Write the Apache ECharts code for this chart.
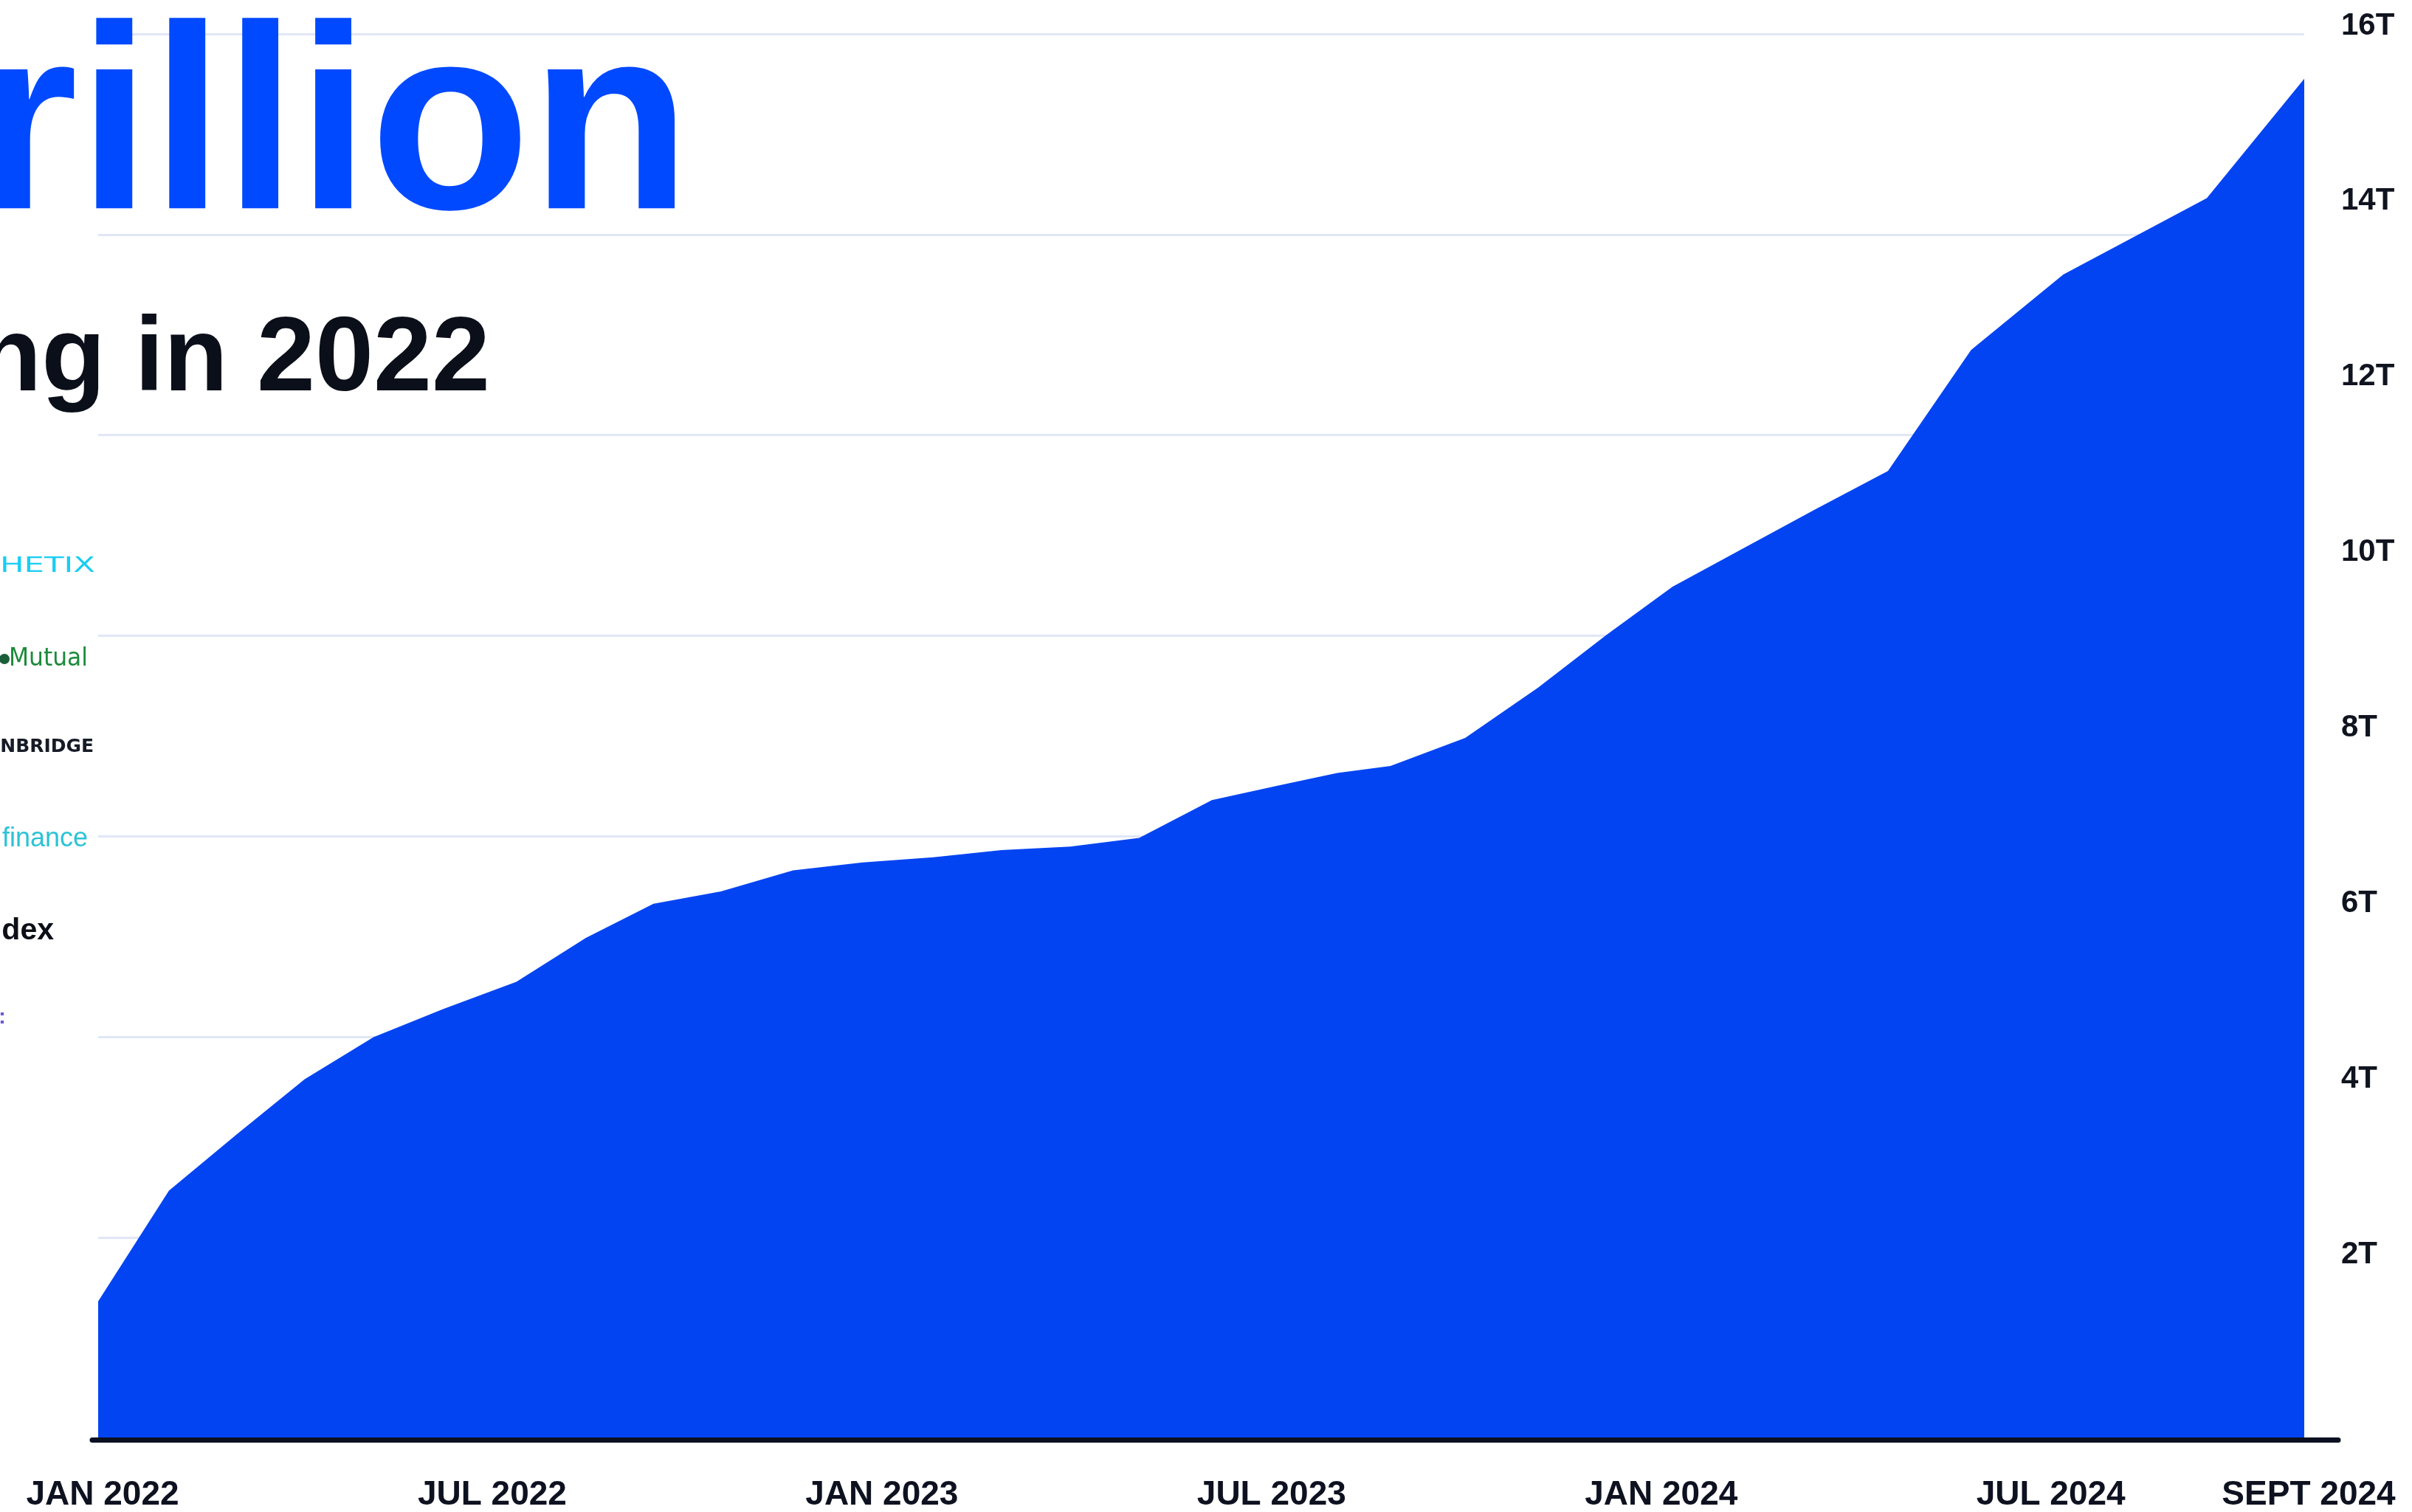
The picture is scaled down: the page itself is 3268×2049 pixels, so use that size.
<!DOCTYPE html>
<html>
<head>
<meta charset="utf-8">
<script src="https://cdn.jsdelivr.net/npm/echarts@6/dist/echarts.min.js"></script>
<style>
  html, body { margin: 0; padding: 0; background: #ffffff; }
  #chart { width: 3268px; height: 2049px; }
</style>
</head>
<body>
<div id="chart"></div>
<script>
// Position of each sample, in months since JAN 2022
const monthPos = [0, 1.09, 2.13, 3.18, 4.24, 5.31, 6.44, 7.51, 8.55, 9.59, 10.70, 11.77,
  12.86, 13.91, 14.97, 16.03, 17.15, 18.20, 19.08, 19.90, 21.05, 22.17, 23.22, 24.24,
  25.36, 26.43, 27.56, 28.84, 30.26, 32.47, 33.97];
// Cumulative volume, trillions
const volumeT = [1.56, 2.82, 3.46, 4.09, 4.57, 4.89, 5.20, 5.70, 6.09, 6.23, 6.47, 6.56,
  6.62, 6.70, 6.74, 6.84, 7.27, 7.44, 7.58, 7.66, 7.98, 8.55, 9.15, 9.70,
  10.15, 10.58, 11.02, 12.40, 13.26, 14.13, 15.49];
const xTickLabels = ['JAN 2022', 'JUL 2022', 'JAN 2023', 'JUL 2023', 'JAN 2024', 'JUL 2024', 'SEPT 2024'];
const yTickValues = [2, 4, 6, 8, 10, 12, 14, 16];
const titleText = 'rillion';
const subtitleText = 'ng in 2022';
const sideLabels = ['HETIX', 'Mutual', 'NBRIDGE', 'finance', 'dex', ':'];

const X_MAX = 33.97;
const Y_MAX = yTickValues[yTickValues.length - 1];

const chart = echarts.init(document.getElementById('chart'), null, { renderer: 'canvas' });

const sideStyles = [
  { x: 129, y: 768, font: "normal 28px 'DejaVu Sans'", fill: '#19cdf2', sx: 1.55 },
  { x: 119, y: 893, font: "normal 33px 'DejaVu Sans'", fill: '#1d8a3c', sx: 0.95 },
  { x: 127, y: 1013, font: "bold 24px 'DejaVu Sans'", fill: '#161b26', sx: 1.04 },
  { x: 119, y: 1137, font: "normal 36px 'Liberation Sans'", fill: '#2cc3d6', sx: 1.0 },
  { x: 73, y: 1262, font: "bold 41px 'Liberation Sans'", fill: '#0c0f17', sx: 1.0 },
  { x: 8, y: 1379, font: "bold 30px 'Liberation Sans'", fill: '#6a5ad8', sx: 1.0 }
];

const graphics = [
  {
    type: 'text', x: -33, y: 184, z: 100,
    style: { text: titleText, font: "bold 356px 'Liberation Sans'", fill: '#0049ff',
      align: 'left', textAlign: 'left', verticalAlign: 'middle', textVerticalAlign: 'middle' }
  },
  {
    type: 'text', x: 664, y: 490, z: 100,
    style: { text: subtitleText, font: "bold 142px 'Liberation Sans'", fill: '#0b0f19',
      align: 'right', textAlign: 'right', verticalAlign: 'middle', textVerticalAlign: 'middle' }
  },
  {
    // small leading icon of the Mutual logo
    type: 'circle', x: 6, y: 893, z: 100,
    shape: { r: 7 }, style: { fill: '#1b5e3a' }
  }
].concat(sideLabels.map((t, i) => ({
  type: 'text', x: sideStyles[i].x, y: sideStyles[i].y, scaleX: sideStyles[i].sx, z: 100,
  style: { text: t, font: sideStyles[i].font, fill: sideStyles[i].fill,
    align: 'right', textAlign: 'right', verticalAlign: 'middle', textVerticalAlign: 'middle' }
})));

const option = {
  animation: false,
  backgroundColor: '#ffffff',
  grid: [
    { left: 133, right: 146, top: 46, bottom: 100 },
    { left: 125, right: 100, top: 46, bottom: 98 }
  ],
  xAxis: [
    {
      gridIndex: 0, type: 'value', min: 0, max: X_MAX, interval: 6,
      axisLine: { show: false }, axisTick: { show: false }, splitLine: { show: false },
      axisLabel: {
        show: true, margin: 54, fontSize: 46, fontWeight: 'bold', color: '#0e1220',
        fontFamily: 'Liberation Sans', padding: [0, 0, 0, 12],
        formatter: function (v) {
          if (Math.abs(v - X_MAX) < 1e-6) return xTickLabels[xTickLabels.length - 1];
          return xTickLabels[Math.round(v / 6)];
        }
      }
    },
    {
      gridIndex: 1, type: 'value', min: 0, max: 1, z: 10,
      axisLine: { show: true, lineStyle: { color: '#0b1020', width: 7 } },
      axisTick: { show: false }, axisLabel: { show: false }, splitLine: { show: false }
    }
  ],
  yAxis: [
    {
      gridIndex: 0, type: 'value', position: 'right', min: 0, max: Y_MAX, interval: 2,
      axisLine: { show: false }, axisTick: { show: false }, splitLine: { show: false },
      axisLabel: {
        show: true, margin: 50, fontSize: 42, fontWeight: 'bold', color: '#10141f',
        fontFamily: 'Liberation Sans', showMinLabel: false,
        verticalAlign: 'bottom', lineHeight: 22,
        formatter: function (v) { return v + 'T'; }
      }
    },
    {
      gridIndex: 0, type: 'value', position: 'left', min: 0, max: 7, interval: 1,
      axisLine: { show: false }, axisTick: { show: false }, axisLabel: { show: false },
      splitLine: { show: true, lineStyle: { color: '#e1e6f8', width: 3 } }
    },
    { gridIndex: 1, type: 'value', show: false, min: 0, max: 1 }
  ],
  series: [
    {
      type: 'line', xAxisIndex: 0, yAxisIndex: 0, silent: true,
      data: monthPos.map((m, i) => [m, volumeT[i]]),
      showSymbol: false, symbol: 'none',
      lineStyle: { width: 0, color: '#0344f2' },
      areaStyle: { color: '#0344f2', opacity: 1 },
      z: 2
    }
  ],
  graphic: { elements: graphics }
};

chart.setOption(option);
</script>
</body>
</html>
